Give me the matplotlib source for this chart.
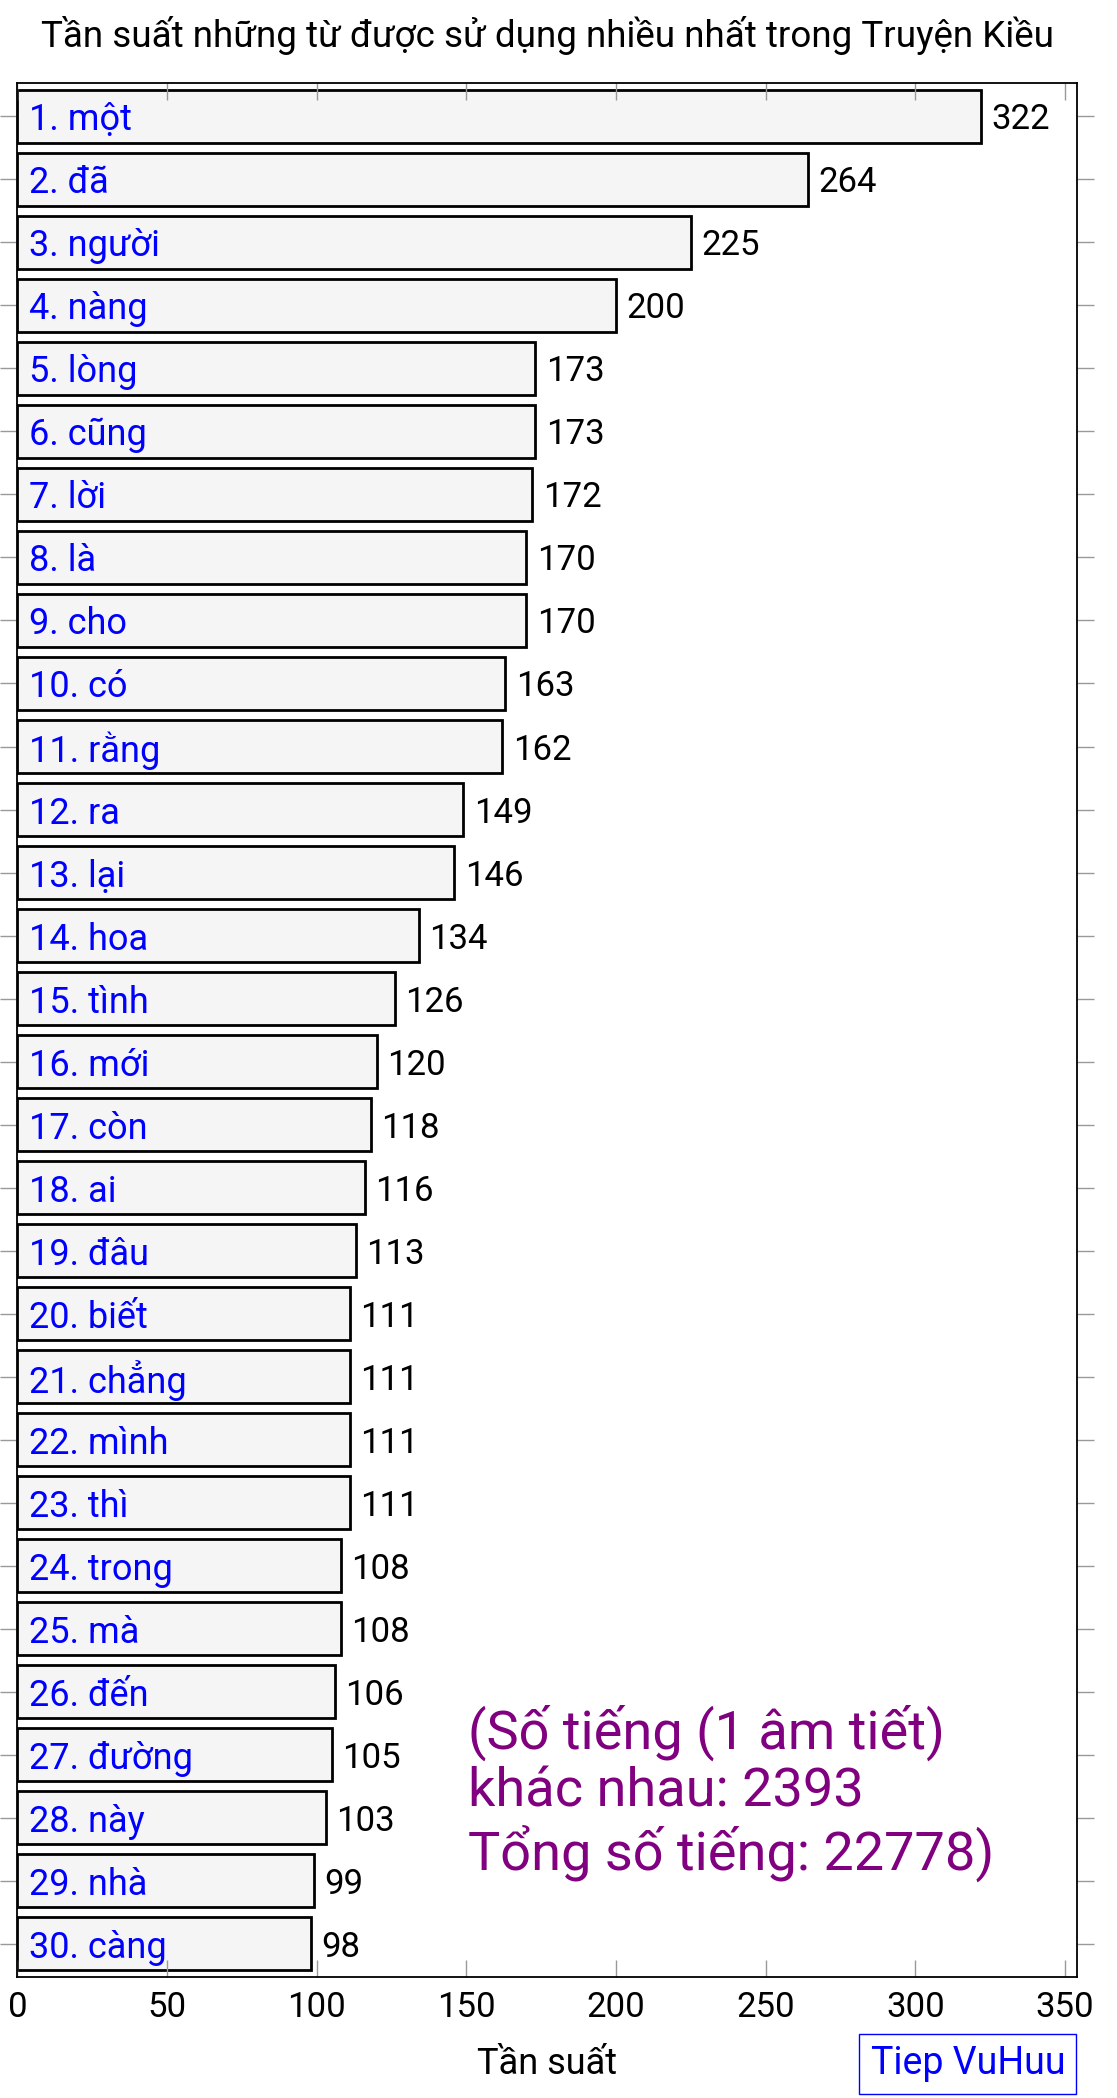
import numpy as np
import matplotlib.pyplot as plt

words = ['một', 'đã', 'người', 'nàng', 'lòng', 'cũng', 'lời', 'là', 'cho', 'có',
         'rằng', 'ra', 'lại', 'hoa', 'tình', 'mới', 'còn', 'ai', 'đâu', 'biết',
         'chẳng', 'mình', 'thì', 'trong', 'mà', 'đến', 'đường', 'này', 'nhà', 'càng']
counts = [322, 264, 225, 200, 173, 173, 172, 170, 170, 163,
          162, 149, 146, 134, 126, 120, 118, 116, 113, 111,
          111, 111, 111, 108, 108, 106, 105, 103, 99, 98]
x_ticks = [0, 50, 100, 150, 200, 250, 300, 350]

plt.rcParams['font.family'] = ['Roboto', 'DejaVu Sans']

fig = plt.figure(figsize=(11.17, 20.98), dpi=100)
ax = fig.add_axes([0.0156, 0.0577, 0.9486, 0.9027])

pos = np.arange(1, len(counts) + 1)
ax.barh(pos, counts, height=0.85, color='#f5f5f5', edgecolor='black', linewidth=2)

for p, w, c in zip(pos, words, counts):
    ax.text(4, p, '%d. %s' % (p, w), color='blue', fontsize=26,
            va='center_baseline', ha='left')
    ax.text(c + 3.5, p, str(c), color='black', fontsize=25,
            va='center_baseline', ha='left')

ax.set_xlim(0, 354)
ax.set_ylim(30.53, 0.47)
ax.set_xticks(x_ticks)
ax.set_yticks(pos)
ax.set_yticklabels([])
ax.tick_params(axis='x', direction='in', length=12, width=1, color='#999999',
               top=True, labelsize=25, pad=10)
ax.tick_params(axis='y', direction='out', length=12, width=1, color='#999999',
               right=True)
for s in ax.spines.values():
    s.set_linewidth(1.3)

ax.set_xlabel('Tần suất', fontsize=26, labelpad=16)
fig.text(0.49, 0.983, 'Tần suất những từ được sử dụng nhiều nhất trong Truyện Kiều',
         ha='center', va='center', fontsize=26.5)

ax.text(0.425, 0.097, '(Số tiếng (1 âm tiết)\nkhác nhau: 2393\nTổng số tiếng: 22778)',
        transform=ax.transAxes, color='#800080', fontsize=39, linespacing=1.14,
        ha='left', va='center')

fig.text(0.8665, 0.0163, 'Tiep VuHuu', color='blue', fontsize=27, ha='center', va='center',
         bbox=dict(boxstyle='square,pad=0.3', facecolor='white', edgecolor='blue', linewidth=1))

fig.savefig('out.png', dpi=100)
